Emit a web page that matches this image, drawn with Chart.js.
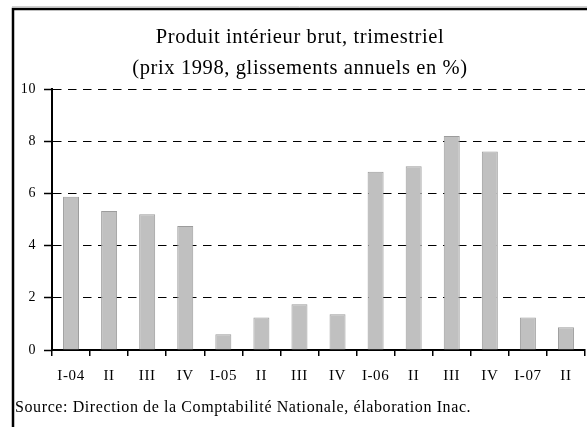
<!DOCTYPE html>
<html>
<head>
<meta charset="utf-8">
<script src="https://cdn.jsdelivr.net/npm/chart.js@4.4.1/dist/chart.umd.min.js"></script>
<style>
  html, body { margin: 0; padding: 0; background: #fff; }
  #wrap { width: 587px; height: 427px; position: relative; }
</style>
</head>
<body>
<div id="wrap"><canvas id="c" width="587" height="427"></canvas></div>
<script>
const categories = ['I-04','II','III','IV','I-05','II','III','IV','I-06','II','III','IV','I-07','II'];
const pibGrowth = [5.87, 5.33, 5.2, 4.75, 0.6, 1.25, 1.75, 1.37, 6.83, 7.04, 8.2, 7.61, 1.25, 0.87];
const yTicks = [0, 2, 4, 6, 8, 10];
const titleLines = ['Produit intérieur brut, trimestriel', '(prix 1998, glissements annuels en %)'];
const sourceText = 'Source: Direction de la Comptabilité Nationale, élaboration Inac.';

const SERIF = "'Liberation Serif', 'Times New Roman', serif";
const LETTER_SPACING = '0.6px';

const spacingPlugin = {
  id: 'spacing',
  beforeLayout(chart) { chart.ctx.letterSpacing = LETTER_SPACING; },
  beforeDraw(chart) { chart.ctx.letterSpacing = LETTER_SPACING; }
};

const framePlugin = {
  id: 'frame',
  beforeDraw(chart) {
    const ctx = chart.ctx;
    ctx.save();
    ctx.fillStyle = '#fff';
    ctx.fillRect(0, 0, chart.width, chart.height);
    ctx.strokeStyle = '#d0d0d0';
    ctx.lineWidth = 1;
    ctx.beginPath();
    ctx.moveTo(12, 6.5);
    ctx.lineTo(chart.width, 6.5);
    ctx.stroke();
    ctx.strokeStyle = '#000';
    ctx.lineWidth = 2.5;
    ctx.beginPath();
    ctx.moveTo(13, chart.height + 2);
    ctx.lineTo(13, 9);
    ctx.lineTo(chart.width + 2, 9);
    ctx.stroke();
    ctx.restore();
  }
};

new Chart(document.getElementById('c'), {
  type: 'bar',
  data: {
    labels: categories,
    datasets: [{
      data: pibGrowth,
      backgroundColor: '#c0c0c0',
      borderColor: '#9c9c9c',
      borderWidth: 1,
      barPercentage: 0.42,
      categoryPercentage: 1
    }]
  },
  options: {
    responsive: false,
    animation: false,
    devicePixelRatio: 1,
    layout: { padding: { left: 15, right: 2, top: 0, bottom: 0 } },
    plugins: {
      legend: { display: false },
      tooltip: { enabled: false },
      title: {
        display: true,
        text: titleLines,
        color: '#000',
        font: { family: SERIF, size: 20.5, weight: 'normal', lineHeight: '31px' },
        padding: { top: 22.5, bottom: 4.5 }
      },
      subtitle: {
        display: true,
        position: 'bottom',
        align: 'start',
        text: sourceText,
        color: '#000',
        font: { family: SERIF, size: 16, weight: 'normal', lineHeight: '19.2px' },
        padding: { top: 9.8, bottom: 10 }
      }
    },
    scales: {
      x: {
        offset: true,
        grid: {
          display: true,
          offset: true,
          drawOnChartArea: false,
          drawTicks: true,
          tickLength: 6,
          color: '#000',
          lineWidth: 1.5
        },
        border: { display: true, color: '#000', width: 2 },
        ticks: {
          color: '#000',
          font: { family: SERIF, size: 15 },
          maxRotation: 0,
          autoSkip: false,
          padding: 11
        },
        afterFit(scale) { scale.height = 38; }
      },
      y: {
        min: 0,
        max: 10,
        afterBuildTicks(scale) { scale.ticks = yTicks.map(v => ({ value: v })); },
        grid: {
          color: '#000',
          lineWidth: 1,
          tickBorderDash: [],
          tickLength: 8,
          tickColor: '#000',
          tickWidth: 1.5
        },
        border: { display: true, color: '#000', width: 2, dash: [8.5, 6.5] },
        ticks: {
          color: '#000',
          font: { family: SERIF, size: 14 },
          padding: 8
        },
        afterFit(scale) { scale.width = 37; }
      }
    }
  },
  plugins: [spacingPlugin, framePlugin]
});
</script>
</body>
</html>
